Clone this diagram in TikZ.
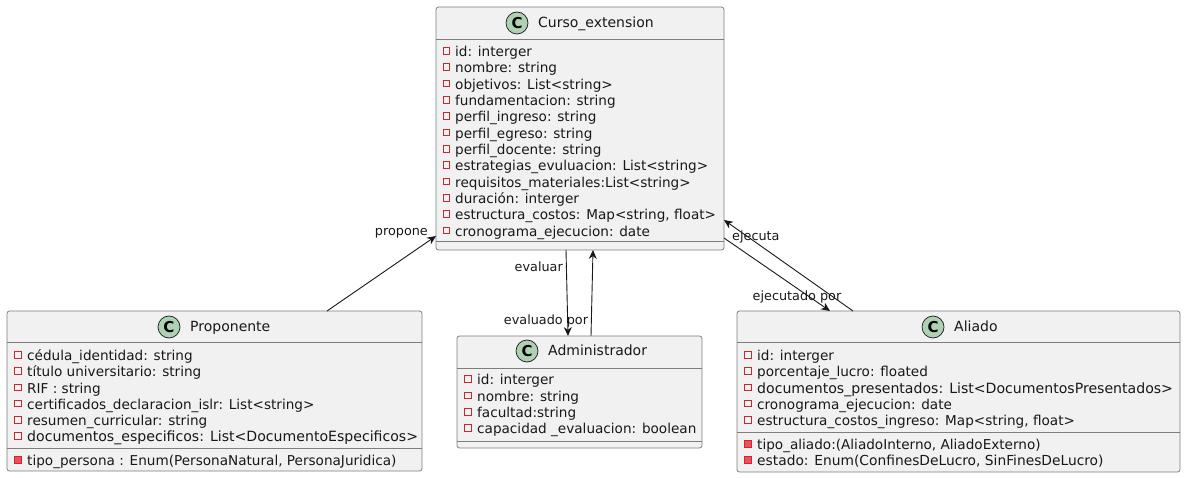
\documentclass[tikz,border=0pt]{standalone}
\usepackage{fontspec}
\setmainfont{DejaVu Sans}
\usetikzlibrary{arrows.meta,calc}
\definecolor{boxfill}{HTML}{F1F1F1}
\definecolor{bordc}{HTML}{7E7E7E}
\definecolor{privred}{HTML}{C82930}
\definecolor{privfill}{HTML}{F24D5C}
\definecolor{cgreen}{HTML}{ADD1B2}
\definecolor{linec}{HTML}{181818}
\tikzset{
  cls/.style={draw=bordc, fill=boxfill, rounded corners=2.5pt, line width=0.8pt, inner sep=0pt, outer sep=0pt, anchor=north west},
  sepline/.style={draw=bordc, line width=0.8pt},
  priv/.style={draw=privred, line width=0.7pt, minimum size=6.5pt, inner sep=0pt, outer sep=0pt},
  privm/.style={priv, fill=privfill},
  txt/.style={anchor=west, inner sep=0pt, text height=10.5pt, text depth=3pt, yshift=-1.8pt, font=\fontsize{13.6}{16}\selectfont, text=linec},
  wide/.style={font=\fontsize{14.1}{16}\selectfont},
  ttl/.style={anchor=west, inner sep=0pt, text height=10.5pt, text depth=3pt, yshift=-1.2pt, font=\fontsize{14}{16}\selectfont, text=linec},
  lbl/.style={inner sep=0pt, text height=9.5pt, text depth=3pt, yshift=-1pt, font=\fontsize{12.8}{15}\selectfont, text=linec},
  circ/.style={circle, draw=linec, line width=0.7pt, fill=cgreen, minimum size=22pt, inner sep=0pt, font=\fontsize{15}{15}\selectfont\bfseries, text=black},
  conn/.style={draw=linec, line width=0.9pt, -{Stealth[length=9pt, width=8pt, inset=3pt]}}
}
\begin{document}
\begin{tikzpicture}[x=1pt, y=-1pt]
\useasboundingbox (0,0) rectangle (1186,478);

% ---------- Curso_extension ----------
\node[cls, minimum width=288pt, minimum height=243pt] (curso) at (436,7) {};
\node[circ] (cursoC) at (517,23) {C};
\node[ttl] (cursoT) at (538,23) {Curso\_extension};
\draw[sepline] (436,39) -- (724,39);
\draw[sepline] (436,241) -- (724,241);
\foreach \yy/\tx [count=\i] in {
  51/{id: interger},
  67/{nombre: string},
  83.5/{objetivos: List<string>},
  100/{fundamentacion: string},
  116/{perfil\_ingreso: string},
  132.5/{perfil\_egreso: string},
  149/{perfil\_docente: string},
  165/{estrategias\_evuluacion: List<string>},
  181.5/{requisitos\_materiales:List<string>},
  198/{duración: interger},
  214/{estructura\_costos: Map<string, float>},
  230.5/{cronograma\_ejecucion: date}}{
  \node[priv] (ci\i) at (446.5,\yy) {};
  \node[txt] (ct\i) at (455,\yy) {\tx};
}

% ---------- Proponente ----------
\node[cls, minimum width=415pt, minimum height=160pt] (prop) at (7,311) {};
\node[circ] (propC) at (169,327) {C};
\node[ttl] (propT) at (190,327) {Proponente};
\draw[sepline] (7,342) -- (422,342);
\draw[sepline] (7,448) -- (422,448);
\foreach \yy/\tx [count=\i] in {
  355/{cédula\_identidad: string},
  371/{título universitario: string},
  387.5/{RIF : string},
  403.5/{certificados\_declaracion\_islr: List<string>},
  420/{resumen\_curricular: string}}{
  \node[priv] (pi\i) at (18,\yy) {};
  \node[txt] (pt\i) at (27,\yy) {\tx};
}
\node[priv] (pi6) at (18,436) {};
\node[txt, wide] (pt6) at (27,436) {documentos\_especificos: List<DocumentoEspecificos>};
\node[privm] (pm1) at (18,460) {};
\node[txt] (pmt1) at (27,460) {tipo\_persona : Enum(PersonaNatural, PersonaJuridica)};

% ---------- Administrador ----------
\node[cls, minimum width=245pt, minimum height=112pt] (admin) at (457,336) {};
\node[circ] (adminC) at (527,351) {C};
\node[ttl] (adminT) at (548,351) {Administrador};
\draw[sepline] (457,368) -- (702,368);
\draw[sepline] (457,441) -- (702,441);
\foreach \yy/\tx [count=\i] in {
  379/{id: interger},
  395.5/{nombre: string},
  412/{facultad:string},
  428/{capacidad \_evaluacion: boolean}}{
  \node[priv] (ai\i) at (468,\yy) {};
  \node[txt] (at\i) at (477,\yy) {\tx};
}

% ---------- Aliado ----------
\node[cls, minimum width=443pt, minimum height=161pt] (aliado) at (737,311) {};
\node[circ] (aliC) at (933,327) {C};
\node[ttl] (aliT) at (954,327) {Aliado};
\draw[sepline] (737,342) -- (1180,342);
\draw[sepline] (737,432) -- (1180,432);
\node[priv] (li1) at (748,355) {};
\node[txt] (lt1) at (757,355) {id: interger};
\node[priv] (li2) at (748,371) {};
\node[txt] (lt2) at (757,371) {porcentaje\_lucro: floated};
\node[priv] (li3) at (748,387.5) {};
\node[txt, wide] (lt3) at (757,387.5) {documentos\_presentados: List<DocumentosPresentados>};
\node[priv] (li4) at (748,403.5) {};
\node[txt] (lt4) at (757,403.5) {cronograma\_ejecucion: date};
\node[priv] (li5) at (748,420) {};
\node[txt] (lt5) at (757,420) {estructura\_costos\_ingreso: Map<string, float>};
\node[privm] (lm1) at (748,444) {};
\node[txt] (lmt1) at (757,444) {tipo\_aliado:(AliadoInterno, AliadoExterno)};
\node[privm] (lm2) at (748,460) {};
\node[txt, font=\fontsize{13.8}{16}\selectfont] (lmt2) at (757,460) {estado: Enum(ConfinesDeLucro, SinFinesDeLucro)};

% ---------- Connectors ----------
\draw[conn] ($(prop.north west)+(320,0)$) -- ($(curso.south west)+(0,-14)$);
\node[lbl, anchor=east] (lpropone) at (428,231) {propone};

\draw[conn] ($(curso.south west)+(130,0)$) -- ($(admin.north west)+(111,0)$);
\node[lbl, anchor=east] (levaluar) at (563,267) {evaluar};
\node[lbl] (levaluado) at (546,320) {evaluado por};
\draw[conn] ($(admin.north west)+(134,0)$) -- ($(curso.south west)+(157,0)$);

\draw[conn] ($(curso.south east)+(0,-12)$) -- ($(aliado.north west)+(93,0)$);
\node[lbl] (lejecutado) at (797,296) {ejecutado por};
\draw[conn] ($(aliado.north west)+(116,0)$) -- ($(curso.south east)+(0,-30)$);
\node[lbl, anchor=west] (lejecuta) at (732,236) {ejecuta};
\end{tikzpicture}
\end{document}
